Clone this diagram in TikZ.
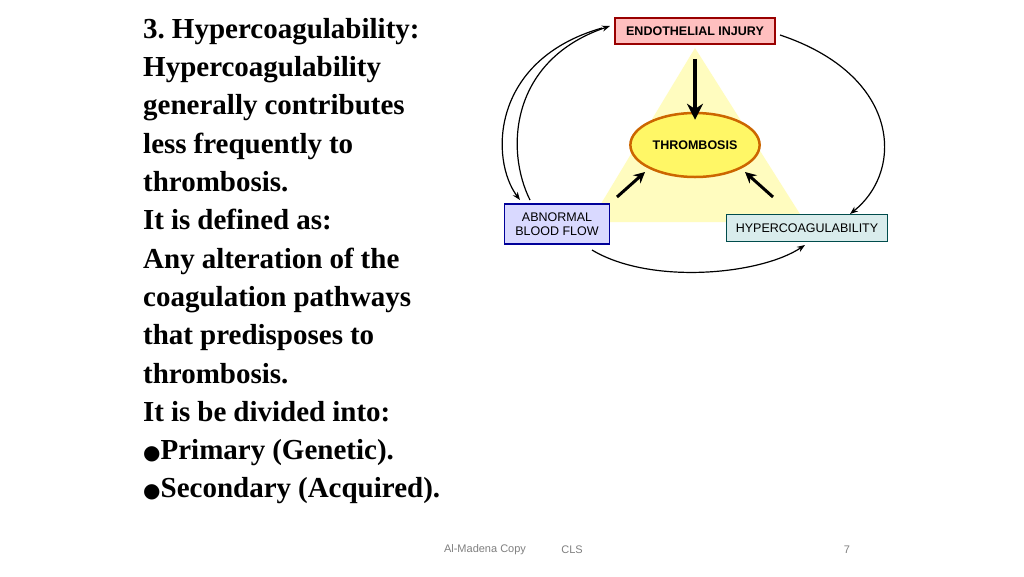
\documentclass[tikz,border=0pt]{standalone}
\usepackage{fontspec}
\setmainfont{Liberation Serif}
\setsansfont{Liberation Sans}
\newfontfamily\symfont{DejaVu Sans}
\usetikzlibrary{arrows.meta,shapes.geometric,positioning}
\tikzset{
  labBox/.style={rectangle, draw=#1!60!black, line width=1.5pt, font=\sffamily\fontsize{12.5}{14}\selectfont, align=center, inner sep=2pt},
  cycArrow/.style={->,>={Stealth[length=8pt,width=6pt]}, line width=1.2pt},
  bigArrow/.style={->,>={Stealth[length=16pt,width=16pt]}, line width=4.5pt},
  midArrow/.style={->,>={Stealth[length=11pt,width=11pt]}, line width=3pt},
  footText/.style={font=\sffamily\fontsize{11}{12}\selectfont, text=gray}
}
\newcommand{\blob}{{\symfont\fontsize{20}{20}\selectfont ●}}
\begin{document}
\begin{tikzpicture}[x=1pt,y=-1pt]
\useasboundingbox[fill=white] (0,0) rectangle (1024,576);
% text column
\node (body) [anchor=north west, text width=380pt, align=left, inner sep=0pt,
  font=\bfseries\fontsize{29}{38.3}\selectfont] at (143,18)
  {\frenchspacing\spaceskip=7pt plus 2pt\relax 3. Hypercoagulability:\\ Hypercoagulability\\ generally contributes\\ less frequently to\\ thrombosis.\\ It is defined as:\\ Any alteration of the\\ coagulation pathways\\ that predisposes to\\ thrombosis.\\ It is be divided into:\\ \blob Primary (Genetic).\\ \blob Secondary (Acquired).};
% triangle
\fill[yellow!25] (695,48) -- (590,222) -- (805,222) -- cycle;
\node (endo) [labBox=red, fill=red!25, minimum width=160pt, minimum height=26pt] at (695,31) {\bfseries ENDOTHELIAL INJURY};
\node (flow) [labBox=blue, fill=blue!15, minimum width=105pt, minimum height=40pt] at (557,224) {ABNORMAL\\BLOOD FLOW};
\node (hyper) [labBox=teal, fill=teal!15, minimum width=161pt, minimum height=27pt] at (807,228) {HYPERCOAGULABILITY};
\node (thromb) [ellipse, draw=orange!80!black, line width=2.5pt, fill=yellow!60, minimum width=108pt, minimum height=64pt, font=\sffamily\bfseries\fontsize{12.5}{14}\selectfont] at (695,145) {THROMBOSIS};
% arrows into thrombosis
\draw[bigArrow] (endo.south) ++(0,14) -- ([yshift=-8pt]thromb.north);
\draw[midArrow] (617,197) -- (645,172);
\draw[midArrow] (773,197) -- (745,172);
% cycle arrows
\draw[cycArrow] (602,28) .. controls (490,60) and (490,160) .. (520,200);
\draw[cycArrow] (530,200) .. controls (505,150) and (510,60) .. (610,26);
\draw[cycArrow] (780,35) .. controls (900,75) and (905,170) .. (850,214);
\draw[cycArrow] (592,250) .. controls (650,285) and (760,275) .. (805,245);
% footer
\node (foot1) [footText] at (485,550) {Al-Madena Copy};
\node (foot2) [footText] at (572,550) {CLS};
\node (foot3) [footText] at (847,550) {7};
\end{tikzpicture}
\end{document}
